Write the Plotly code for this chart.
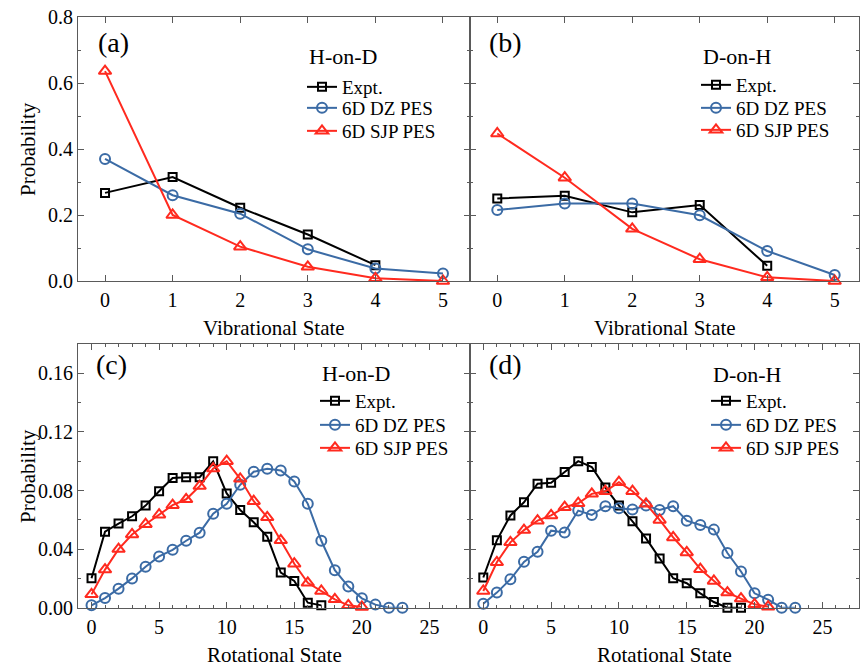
import plotly.graph_objects as go

# ---------------- data ----------------
vib_states = [0, 1, 2, 3, 4, 5]
rot_states = list(range(0, 24))

# (a) H-on-D vibrational
a_expt = [0.267, 0.315, 0.222, 0.141, 0.048]
a_dz = [0.370, 0.260, 0.204, 0.096, 0.038, 0.023]
a_sjp = [0.636, 0.200, 0.104, 0.043, 0.008, 0.000]

# (b) D-on-H vibrational
b_expt = [0.250, 0.258, 0.208, 0.230, 0.046]
b_dz = [0.215, 0.235, 0.235, 0.199, 0.091, 0.018]
b_sjp = [0.447, 0.313, 0.158, 0.066, 0.011, 0.000]

# (c) H-on-D rotational
c_expt = [0.0201, 0.0519, 0.0574, 0.0624, 0.0697, 0.0795, 0.0885, 0.0891, 0.0891,
          0.0999, 0.0780, 0.0667, 0.0583, 0.0485, 0.0240, 0.0183, 0.0034, 0.0016]
c_dz = [0.0016, 0.0066, 0.0130, 0.0200, 0.0280, 0.0350, 0.0395, 0.0457, 0.0512,
        0.0642, 0.0709, 0.0839, 0.0928, 0.0949, 0.0937, 0.0862, 0.0709, 0.0457,
        0.0256, 0.0144, 0.0064, 0.0021, 0.0000, 0.0000]
c_sjp = [0.0091, 0.0260, 0.0400, 0.0500, 0.0570, 0.0635, 0.0700, 0.0740, 0.0830,
         0.0950, 0.1000, 0.0880, 0.0727, 0.0617, 0.0460, 0.0300, 0.0170, 0.0114,
         0.0057, 0.0016, 0.0005]

# (d) D-on-H rotational
d_expt = [0.0206, 0.0460, 0.0630, 0.0720, 0.0846, 0.0853, 0.0926, 0.1000, 0.0960,
          0.0820, 0.0697, 0.0590, 0.0473, 0.0336, 0.0201, 0.0167, 0.0098, 0.0039,
          0.0000, 0.0000]
d_dz = [0.0027, 0.0103, 0.0194, 0.0313, 0.0382, 0.0526, 0.0514, 0.0663, 0.0633,
        0.0693, 0.0679, 0.0670, 0.0697, 0.0667, 0.0693, 0.0594, 0.0565, 0.0533,
        0.0373, 0.0247, 0.0098, 0.0055, 0.0000, 0.0000]
d_sjp = [0.0114, 0.0310, 0.0446, 0.0530, 0.0594, 0.0630, 0.0686, 0.0713, 0.0777,
         0.0795, 0.0857, 0.0795, 0.0709, 0.0599, 0.0480, 0.0377, 0.0263, 0.0183,
         0.0103, 0.0062, 0.0023, 0.0007]

series_names = ["Expt.", "6D DZ PES", "6D SJP PES"]
panel_labels = ["(a)", "(b)", "(c)", "(d)"]
legend_titles = ["H-on-D", "D-on-H", "H-on-D", "D-on-H"]

# ---------------- style ----------------
W, H = 860, 668
FONT = "Liberation Serif, Times New Roman, serif"
COLORS = ["#000000", "#3b6ba5", "#ff2a1f"]
SYMBOLS = ["square-open", "circle-open", "triangle-up-open"]
MSIZE = [8, 10, 11]
AX = "#5a5a5a"

def px_x(p):
    return p / W

def px_y(p):
    return 1 - p / H

# panel frames in pixels: (left, right, top, bottom)
frames = [(78, 470, 17, 281), (470, 859, 17, 281),
          (78, 470, 344, 607.7), (470, 859, 344, 607.7)]
xranges = [[-0.4, 5.4], [-0.404, 5.36], [-1.0, 28.0], [-0.98, 27.7]]

panels = [
    (vib_states, [a_expt, a_dz, a_sjp]),
    (vib_states, [b_expt, b_dz, b_sjp]),
    (rot_states, [c_expt, c_dz, c_sjp]),
    (rot_states, [d_expt, d_dz, d_sjp]),
]

# legend layout (pixels): line-left x, title centre y, entry centre ys
leg_line_x = [310, 704, 323, 714]
leg_title_y = [57, 57, 373, 374]
leg_entry_y = [[87, 108, 131], [85, 108, 130], [401, 425, 448], [401, 425, 448]]
LEG_DX = 8  # offset from legend box left to legend line start

fig = go.Figure()
layout = dict(
    width=W, height=H, showlegend=True,
    margin=dict(l=0, r=0, t=0, b=0, autoexpand=False),
    paper_bgcolor="white", plot_bgcolor="white",
    font=dict(family=FONT, size=20, color="black"),
)

lg_idx = 0
for i, (xs, ys_list) in enumerate(panels):
    xa = "x" if i == 0 else f"x{i+1}"
    ya = "y" if i == 0 else f"y{i+1}"
    for k, ys in enumerate(ys_list):
        lg_idx += 1
        lg = "legend" if lg_idx == 1 else f"legend{lg_idx}"
        fig.add_trace(go.Scatter(
            x=xs[:len(ys)], y=ys, mode="lines+markers", name=series_names[k],
            xaxis=xa, yaxis=ya, legend=lg, cliponaxis=False, showlegend=True,
            line=dict(color=COLORS[k], width=2),
            marker=dict(symbol=SYMBOLS[k], size=MSIZE[k], color=COLORS[k],
                        line=dict(color=COLORS[k], width=2)),
        ))
        layout[lg] = dict(
            x=px_x(leg_line_x[i] - LEG_DX), y=px_y(leg_entry_y[i][k]),
            xanchor="left", yanchor="middle", visible=True,
            bgcolor="rgba(0,0,0,0)", borderwidth=0,
            font=dict(family=FONT, size=19, color="black"),
            itemwidth=30,
        )

for i in range(4):
    l, r, t, b = frames[i]
    sx = "" if i == 0 else str(i + 1)
    top_row = i < 2
    xaxis = dict(
        domain=[px_x(l), px_x(r)], range=xranges[i], anchor="y" + sx,
        showline=True, linecolor=AX, linewidth=1, mirror="allticks",
        ticks="inside", ticklen=6, tickwidth=1, tickcolor=AX,
        showgrid=False, zeroline=False, ticklabeloverflow="allow",
        tickfont=dict(family=FONT, size=20), ticklabelstandoff=1,
    )
    if top_row:
        xaxis.update(tickmode="linear", tick0=0, dtick=1)
    else:
        xaxis.update(tickmode="linear", tick0=0, dtick=5,
                     minor=dict(dtick=1, tick0=0, ticks="inside", ticklen=3,
                                tickcolor=AX, showgrid=False))
    yaxis = dict(
        domain=[px_y(b), px_y(t)], anchor="x" + sx,
        showline=True, linecolor=AX, linewidth=1, mirror="allticks",
        ticks="inside", ticklen=6, tickwidth=1, tickcolor=AX,
        showgrid=False, zeroline=False, ticklabeloverflow="allow",
        tickfont=dict(family=FONT, size=20), ticklabelstandoff=0,
        showticklabels=(i % 2 == 0),
    )
    if top_row:
        yaxis.update(range=[0, 0.8], tickmode="linear", tick0=0, dtick=0.2,
                     tickformat=".1f",
                     minor=dict(dtick=0.1, tick0=0, ticks="inside", ticklen=3,
                                tickcolor=AX, showgrid=False))
    else:
        yaxis.update(range=[0, 0.18], tickmode="linear", tick0=0, dtick=0.04,
                     tickformat=".2f",
                     minor=dict(dtick=0.02, tick0=0, ticks="inside", ticklen=3,
                                tickcolor=AX, showgrid=False))
    layout["xaxis" + sx] = xaxis
    layout["yaxis" + sx] = yaxis

annotations = []
label_pos = [(113, 43), (505, 43), (111, 364), (505, 365)]
for i, (px, py) in enumerate(label_pos):
    annotations.append(dict(text=panel_labels[i], x=px_x(px), y=px_y(py),
                            xref="paper", yref="paper", showarrow=False,
                            xanchor="center", yanchor="middle",
                            font=dict(family=FONT, size=28)))
    # legend group titles
    annotations.append(dict(text=legend_titles[i], x=px_x(leg_line_x[i] - 3),
                            y=px_y(leg_title_y[i]),
                            xref="paper", yref="paper", showarrow=False,
                            xanchor="left", yanchor="middle",
                            font=dict(family=FONT, size=22)))
# axis titles
for cx in (274, 664.5):
    annotations.append(dict(text="Vibrational State", x=px_x(cx), y=px_y(328),
                            xref="paper", yref="paper", showarrow=False,
                            xanchor="center", yanchor="middle",
                            font=dict(family=FONT, size=21)))
    annotations.append(dict(text="Rotational State", x=px_x(cx), y=px_y(655),
                            xref="paper", yref="paper", showarrow=False,
                            xanchor="center", yanchor="middle",
                            font=dict(family=FONT, size=21)))
for cy in (149, 476):
    annotations.append(dict(text="Probability", x=px_x(28), y=px_y(cy),
                            xref="paper", yref="paper", showarrow=False,
                            xanchor="center", yanchor="middle", textangle=-90,
                            font=dict(family=FONT, size=21)))
layout["annotations"] = annotations

fig.update_layout(**layout)
# remove the default 8px page margin so the 860x668 figure fills the window
fig.write_html("out.html",
               config={"displayModeBar": False},
               post_script="document.body.style.margin='0px';"
                           "document.body.style.overflow='hidden';")
